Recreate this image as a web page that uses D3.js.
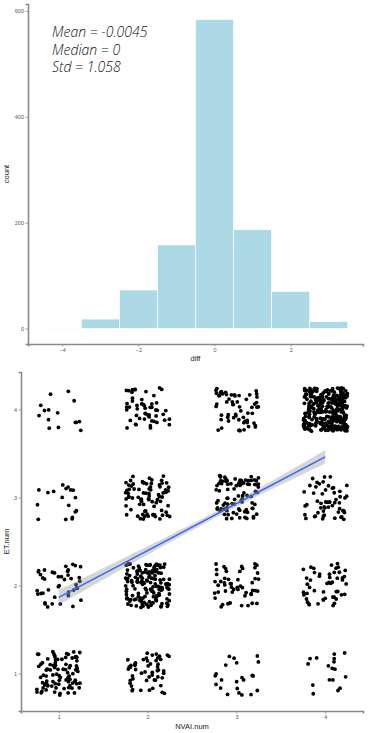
<!DOCTYPE html>
<html>
<head>
<meta charset="utf-8">
<script src="https://cdn.jsdelivr.net/npm/d3@7/dist/d3.min.js"></script>
<style>
  body { margin: 0; background: #fff; }
  svg { display: block; }
  .tick text { font-family: "Liberation Sans", Arial, sans-serif; font-size: 5.5px; fill: #555; }
  .axisTitle { font-family: "Liberation Sans", Arial, sans-serif; font-size: 7.5px; fill: #222; }
  .stats { font-family: "Open Sans", sans-serif; font-style: italic; font-weight: 300; font-size: 14px; fill: #111; }
</style>
</head>
<body>
<script>
var W = 377;
var H = 733;

// histogram of diff
var histBins = [-4, -3, -2, -1, 0, 1, 2, 3];
var histCounts = [1, 18, 73, 158, 584, 187, 70, 13];
var histXTicks = [-4, -2, 0, 2];
var histYTicks = [0, 200, 400, 600];
var statLines = ['Mean = -0.0045', 'Median = 0', 'Std = 1.058'];

// jittered scatter: number of points in each NVAI x ET cell
var nvaiLevels = [1, 2, 3, 4];
var etLevels = [1, 2, 3, 4];
var countsET1 = [90, 52, 22, 17];
var countsET2 = [42, 150, 52, 50];
var countsET3 = [18, 80, 88, 55];
var countsET4 = [15, 52, 60, 300];

// lm smooth
var fitX = [1, 2, 3, 4];
var fitY = [1.865, 2.397, 2.930, 3.462];
var fitLo = [1.78, 2.35, 2.895, 3.385];
var fitHi = [1.95, 2.445, 2.965, 3.54];

var svg = d3.select('body').append('svg').attr('width', W).attr('height', H);

/* ===== HISTOGRAM ===== */

var hLeft = 28, hRight = 363, hTop = 4, hBottom = 344;

var hx = d3.scaleLinear().domain([-4.9, 3.9]).range([hLeft, hRight]);
var hy = d3.scaleLinear().domain([-29.2, 613.2]).range([hBottom, hTop]);

var hist = svg.append('g');

hist.selectAll('rect.bar')
  .data(histBins)
  .enter()
  .append('rect')
  .attr('class', 'bar')
  .attr('x', function (d) { return hx(d - 0.5); })
  .attr('width', function (d) { return hx(d + 0.5) - hx(d - 0.5); })
  .attr('y', function (d, i) { return hy(histCounts[i]); })
  .attr('height', function (d, i) { return Math.max(hy(0) - hy(histCounts[i]), 0.8); })
  .attr('fill', '#add8e6')
  .attr('stroke', '#fff')
  .attr('stroke-width', 0.7);

var hxAxis = hist.append('g')
  .attr('transform', 'translate(0,' + hBottom + ')')
  .call(d3.axisBottom(hx).tickValues(histXTicks).tickSize(2.5).tickPadding(1.5).tickFormat(d3.format('d')));

var hyAxis = hist.append('g')
  .attr('transform', 'translate(' + hLeft + ',0)')
  .call(d3.axisLeft(hy).tickValues(histYTicks).tickSize(2.5).tickPadding(1.5));

hist.append('text')
  .attr('class', 'axisTitle')
  .attr('x', (hLeft + hRight) / 2)
  .attr('y', 361)
  .attr('text-anchor', 'middle')
  .text('diff');

hist.append('text')
  .attr('class', 'axisTitle')
  .attr('transform', 'translate(9,' + (hTop + hBottom) / 2 + ') rotate(-90)')
  .attr('text-anchor', 'middle')
  .text('count');

hist.selectAll('text.stats')
  .data(statLines)
  .enter()
  .append('text')
  .attr('class', 'stats')
  .attr('x', 52)
  .attr('y', function (d, i) { return 37 + i * 17.7; })
  .text(function (d) { return d; });

/* ===== JITTER SCATTER ===== */

var sLeft = 21, sRight = 363, sTop = 372, sBottom = 711;

var sx = d3.scaleLinear().domain([0.575, 4.425]).range([sLeft, sRight]);
var sy = d3.scaleLinear().domain([0.575, 4.425]).range([sBottom, sTop]);

var cellCounts = [countsET1, countsET2, countsET3, countsET4];

// geom_jitter(width = .25, height = .25) with a fixed seed
var lcg = d3.randomLcg(0.4217);
var jitter = d3.randomUniform.source(lcg)(-0.25, 0.25);

var points = [];
etLevels.forEach(function (et, r) {
  nvaiLevels.forEach(function (nv, c) {
    for (var k = 0; k < cellCounts[r][c]; k++) {
      points.push({ x: nv + jitter(), y: et + jitter() });
    }
  });
});

var scat = svg.append('g');

scat.selectAll('circle')
  .data(points)
  .enter()
  .append('circle')
  .attr('cx', function (d) { return sx(d.x); })
  .attr('cy', function (d) { return sy(d.y); })
  .attr('r', 1.9)
  .attr('fill', '#000');

var band = d3.area()
  .x(function (d, i) { return sx(fitX[i]); })
  .y0(function (d, i) { return sy(fitLo[i]); })
  .y1(function (d, i) { return sy(fitHi[i]); })
  .curve(d3.curveMonotoneX);

scat.append('path')
  .datum(fitX)
  .attr('d', band)
  .attr('fill', '#999')
  .attr('opacity', 0.4);

var fitLine = d3.line()
  .x(function (d, i) { return sx(fitX[i]); })
  .y(function (d, i) { return sy(fitY[i]); });

scat.append('path')
  .datum(fitX)
  .attr('d', fitLine)
  .attr('fill', 'none')
  .attr('stroke', '#3366ff')
  .attr('stroke-width', 1.5);

var sxAxis = scat.append('g')
  .attr('transform', 'translate(0,' + sBottom + ')')
  .call(d3.axisBottom(sx).tickValues(nvaiLevels).tickSize(2.5).tickPadding(1.5).tickFormat(d3.format('d')));

var syAxis = scat.append('g')
  .attr('transform', 'translate(' + sLeft + ',0)')
  .call(d3.axisLeft(sy).tickValues(etLevels).tickSize(2.5).tickPadding(1.5).tickFormat(d3.format('d')));

scat.append('text')
  .attr('class', 'axisTitle')
  .attr('x', (sLeft + sRight) / 2)
  .attr('y', 729)
  .attr('text-anchor', 'middle')
  .text('NVAI.num');

scat.append('text')
  .attr('class', 'axisTitle')
  .attr('transform', 'translate(9,' + (sTop + sBottom) / 2 + ') rotate(-90)')
  .attr('text-anchor', 'middle')
  .text('ET.num');

// axis look: grey lines, short ticks
svg.selectAll('.domain').attr('stroke', '#8a8a8a').attr('stroke-width', 1.6);
svg.selectAll('.tick line').attr('stroke', '#8a8a8a').attr('stroke-width', 0.8);
</script>
</body>
</html>
